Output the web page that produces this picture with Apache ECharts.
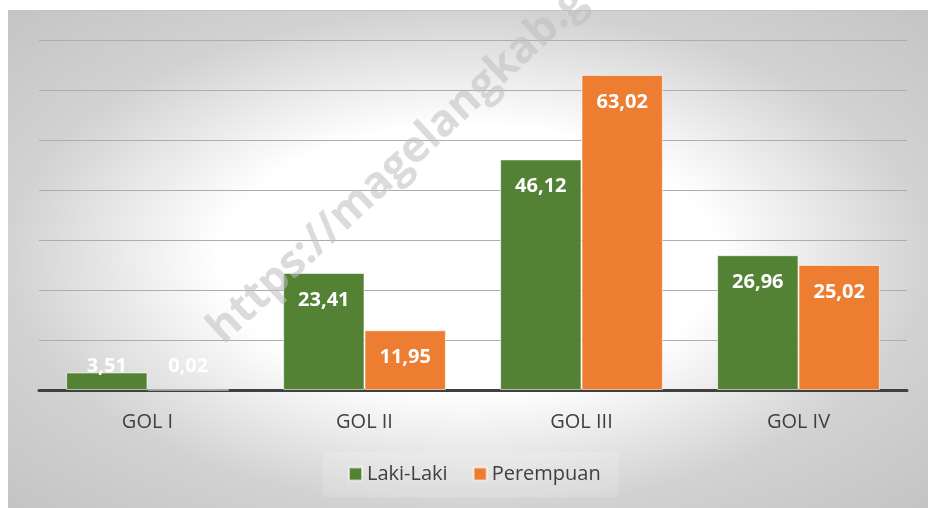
<!DOCTYPE html>
<html>
<head>
<meta charset="utf-8">
<script src="https://cdn.jsdelivr.net/npm/echarts@6/dist/echarts.min.js"></script>
<style>
    html, body { margin: 0; padding: 0; background: #ffffff; }
    #golongan { width: 928px; height: 508px; }
</style>
</head>
<body>
<div id="golongan"></div>
<script>
var categories = ['GOL I', 'GOL II', 'GOL III', 'GOL IV'];
var seriesNames = ['Laki-Laki', 'Perempuan'];
var lakiLaki = [3.51, 23.41, 46.12, 26.96];
var perempuan = [0.02, 11.95, 63.02, 25.02];

var fontName = '"Open Sans", "Noto Sans", sans-serif';

// small bars get their label above the axis instead of inside the top
function buildData(values) {
    return values.map(function (v) {
        if (v < 5) {
            return {
                value: v,
                label: { position: 'insideBottom', distance: 14 }
            };
        }
        return v;
    });
}

function fmt(p) {
    return p.value.toFixed(2).replace('.', ',');
}

var dom = document.getElementById('golongan');
var myChart = echarts.init(dom);
var W = 920, H = 498;

option = {
    animation: false,
    color: ['#548235', '#ED7D31'],
    graphic: [
        {
            type: 'rect',
            x: 8,
            y: 10,
            scaleY: H / W,
            z: -10,
            silent: true,
            shape: { x: 0, y: 0, width: W, height: W },
            style: {
                fill: {
                    type: 'radial', x: 0.5, y: 0.5, r: 0.707,
                    colorStops: [
                        { offset: 0, color: '#ffffff' },
                        { offset: 0.38, color: '#ffffff' },
                        { offset: 0.707, color: '#d2d2d2' },
                        { offset: 1, color: '#c4c4c4' }
                    ]
                }
            }
        },
        {
            type: 'line',
            z: -9,
            silent: true,
            shape: { x1: 8, y1: 10.5, x2: 928, y2: 10.5 },
            style: { stroke: '#c4c4c4', lineWidth: 1 }
        },
        {
            type: 'text',
            x: 230,
            y: 352,
            rotation: 43 * Math.PI / 180,
            z: 100,
            silent: true,
            style: {
                text: 'https://magelangkab.go.id',
                font: 'bold 44px ' + fontName,
                fill: 'rgba(190,190,190,0.55)',
                textAlign: 'left',
                textVerticalAlign: 'bottom'
            }
        }
    ],
    legend: {
        data: seriesNames,
        left: 323,
        top: 452,
        padding: [12, 18, 13, 25],
        backgroundColor: 'rgba(255,255,255,0.15)',
        icon: 'rect',
        itemWidth: 13,
        itemHeight: 13,
        itemGap: 25,
        textStyle: {
            fontFamily: fontName,
            fontSize: 20,
            color: '#404040'
        }
    },
    grid: {
        left: 39,
        right: 21,
        top: 40,
        bottom: 118
    },
    xAxis: {
        type: 'category',
        data: categories,
        axisTick: { show: false },
        axisLine: { lineStyle: { color: '#404040', width: 3 } },
        axisLabel: {
            margin: 22,
            fontFamily: fontName,
            fontSize: 20,
            color: '#404040'
        }
    },
    yAxis: {
        type: 'value',
        min: 0,
        max: 70,
        interval: 10,
        axisLabel: { show: false },
        axisLine: { show: false },
        axisTick: { show: false },
        splitLine: { lineStyle: { color: '#adadad', width: 1 } }
    },
    series: [
        {
            name: seriesNames[0],
            type: 'bar',
            barGap: '0%',
            barCategoryGap: '25%',
            data: buildData(lakiLaki),
            itemStyle: { borderColor: 'rgba(255,255,255,0.6)', borderWidth: 1 },
            label: {
                show: true,
                position: 'insideTop',
                distance: 17,
                formatter: fmt,
                color: '#ffffff',
                fontFamily: fontName,
                fontWeight: 'bold',
                fontSize: 20
            }
        },
        {
            name: seriesNames[1],
            type: 'bar',
            barGap: '0%',
            barCategoryGap: '25%',
            data: buildData(perempuan),
            itemStyle: { borderColor: 'rgba(255,255,255,0.6)', borderWidth: 1 },
            label: {
                show: true,
                position: 'insideTop',
                distance: 17,
                formatter: fmt,
                color: '#ffffff',
                fontFamily: fontName,
                fontWeight: 'bold',
                fontSize: 20
            }
        }
    ]
};

if (option && typeof option === "object") {
    myChart.setOption(option, true);
}
</script>
</body>
</html>
